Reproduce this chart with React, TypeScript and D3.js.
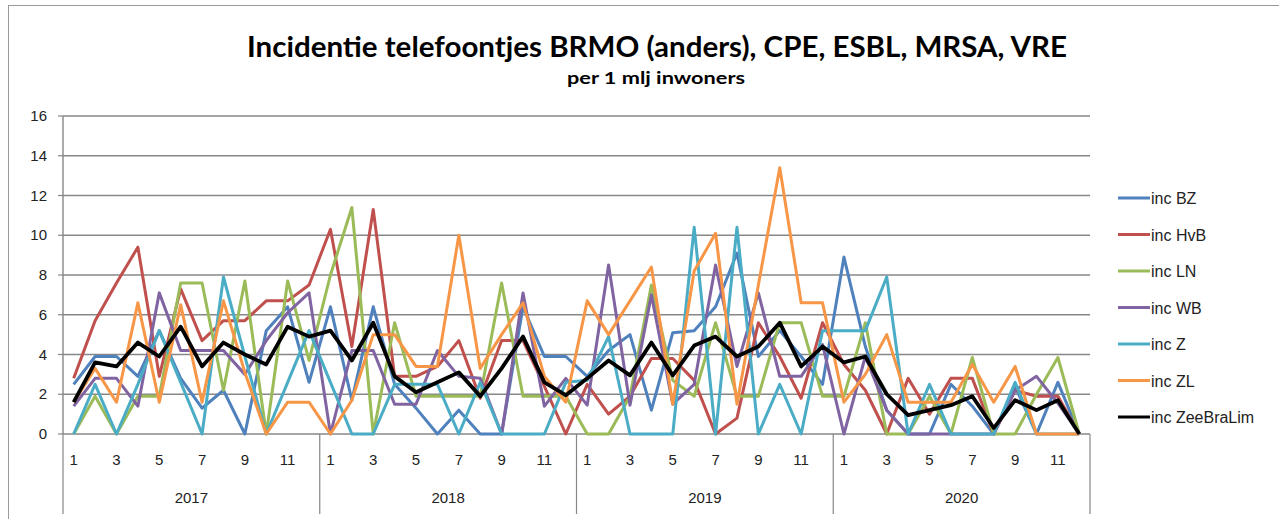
import React from "react";
import * as d3 from "d3";

const years = ["2017", "2018", "2019", "2020"];
const months = [1, 2, 3, 4, 5, 6, 7, 8, 9, 10, 11, 12];
const yTicks = [0, 2, 4, 6, 8, 10, 12, 14, 16];

const incBZ = [2.5, 3.9, 3.9, 2.9, 5.2, 2.8, 1.3, 2.2, 0, 5.2, 6.4, 2.6, 6.4, 1.7, 6.4, 2.5, 1.3, 0, 1.2, 0, 0, 6.4, 3.9, 3.9, 2.9, 4.2, 5.0, 1.2, 5.1, 5.2, 6.4, 9.1, 3.9, 5.2, 3.9, 2.5, 8.9, 4.4, 1.2, 0, 0, 2.5, 1.4, 0, 2.4, 0, 2.6, 0];
const incHvB = [2.8, 5.7, 7.6, 9.4, 2.9, 7.3, 4.7, 5.7, 5.7, 6.7, 6.7, 7.5, 10.3, 4.4, 11.3, 2.9, 2.9, 3.4, 4.7, 1.8, 4.7, 4.7, 2.4, 0, 2.5, 1.0, 1.9, 3.8, 3.8, 2.7, 0, 0.8, 5.6, 3.9, 1.8, 5.6, 3.5, 2.2, 0, 2.8, 1.0, 2.8, 2.8, 0, 2.2, 1.9, 1.9, 0];
const incLN = [0, 1.9, 0, 1.9, 1.9, 7.6, 7.6, 2.2, 7.7, 0, 7.7, 3.7, 8.0, 11.4, 0, 5.6, 1.9, 1.9, 1.9, 1.9, 7.6, 1.9, 1.9, 1.9, 0, 0, 1.9, 7.5, 2.7, 1.9, 5.6, 1.9, 1.9, 5.6, 5.6, 1.9, 1.9, 5.6, 0, 0, 1.9, 0, 3.85, 0, 0, 2.0, 3.85, 0];
const incWB = [1.4, 2.8, 2.8, 1.4, 7.1, 4.2, 4.2, 4.2, 3.0, 4.7, 6.1, 7.1, 0, 4.2, 4.2, 1.5, 1.5, 4.2, 2.9, 2.8, 0, 7.1, 1.4, 2.8, 1.45, 8.5, 1.45, 7.0, 1.5, 2.5, 8.5, 3.4, 7.1, 2.9, 2.9, 4.5, 0, 3.9, 1.2, 0, 0, 0, 0, 0, 2.2, 2.9, 1.55, 0];
const incZ = [0, 2.5, 0, 2.5, 5.2, 2.6, 0, 7.9, 3.9, 0, 2.6, 5.2, 2.6, 0, 0, 2.5, 2.5, 2.5, 0, 2.6, 0, 0, 0, 2.6, 2.7, 4.9, 0, 0, 0, 10.4, 0, 10.4, 0, 2.5, 0, 5.2, 5.2, 5.2, 7.9, 0, 2.5, 0, 0, 0, 2.6, 0, 0, 0];
const incZL = [1.6, 3.3, 1.6, 6.6, 1.6, 6.5, 1.6, 6.7, 3.1, 0, 1.6, 1.6, 0, 1.7, 5.0, 5.0, 3.4, 3.4, 10.0, 3.3, 5.0, 6.6, 2.9, 1.6, 6.7, 5.0, 6.7, 8.4, 1.5, 8.2, 10.1, 1.5, 7.5, 13.4, 6.6, 6.6, 1.6, 3.0, 5.0, 1.6, 1.6, 1.6, 3.5, 1.6, 3.4, 0, 0, 0];
const incZeeBraLim = [1.6, 3.6, 3.4, 4.6, 3.9, 5.4, 3.4, 4.6, 4.0, 3.5, 5.4, 4.9, 5.2, 3.7, 5.6, 2.9, 2.1, 2.6, 3.1, 1.9, 3.3, 4.9, 2.6, 1.95, 2.8, 3.7, 2.95, 4.6, 2.95, 4.45, 4.9, 3.9, 4.4, 5.6, 3.4, 4.4, 3.6, 3.9, 2.0, 0.95, 1.2, 1.45, 1.9, 0.3, 1.7, 1.2, 1.7, 0];

const seriesNames = ["inc BZ", "inc HvB", "inc LN", "inc WB", "inc Z", "inc ZL", "inc ZeeBraLim"];
const seriesValues = [incBZ, incHvB, incLN, incWB, incZ, incZL, incZeeBraLim];
const seriesColors = ["#4F81BD", "#C0504D", "#9BBB59", "#8064A2", "#4BACC6", "#F79646", "#000000"];

const W = 1279;
const H = 519;
const L = 63;
const R = 1090;
const T = 116;
const B = 434;

export default function App() {
  const n = years.length * months.length;
  const idx = d3.range(n);
  const x = d3.scaleBand<number>().domain(idx).range([L, R]).padding(0);
  const cx = (i: number) => (x(i) as number) + x.bandwidth() / 2;
  const y = d3.scaleLinear().domain([0, 16]).range([B, T]);
  const line = d3
    .line<number>()
    .x((_, i) => cx(i))
    .y((v) => y(v));
  const yearW = x.bandwidth() * months.length;
  const font = "'Liberation Sans', Arial, sans-serif";

  return (
    <svg
      width={W}
      height={H}
      style={{ position: "absolute", left: 0, top: 0, background: "#fff" }}
      fontFamily={font}
    >
      <rect x={8.5} y={5.5} width={W} height={H} fill="#fff" stroke="#9a9a9a" strokeWidth={1} />
      <text
        x={657}
        y={57}
        textAnchor="middle"
        fontFamily="Lato, sans-serif"
        fontWeight="bold"
        fontSize={29}
        textLength={820}
        lengthAdjust="spacingAndGlyphs"
        fill="#000"
      >
        Incidentie telefoontjes BRMO (anders), CPE, ESBL, MRSA, VRE
      </text>
      <text
        x={656}
        y={84}
        textAnchor="middle"
        fontFamily="Lato, sans-serif"
        fontWeight="bold"
        fontSize={17}
        textLength={178}
        lengthAdjust="spacingAndGlyphs"
        fill="#000"
      >
        per 1 mlj inwoners
      </text>
      {yTicks.map((t) => (
        <g key={t}>
          <line x1={L} x2={R} y1={y(t)} y2={y(t)} stroke="#878787" strokeWidth={1.6} />
          <line x1={L - 5} x2={L} y1={y(t)} y2={y(t)} stroke="#878787" strokeWidth={1.2} />
          <text x={47} y={y(t) + 5} textAnchor="end" fontSize={15} fill="#222">
            {t}
          </text>
        </g>
      ))}
      <line x1={L} x2={L} y1={T} y2={B} stroke="#878787" strokeWidth={1.4} />
      {years.map((yr, k) => {
        const x0 = L + k * yearW;
        return (
          <g key={yr}>
            <line x1={x0} x2={x0} y1={B} y2={514} stroke="#878787" strokeWidth={1.2} />
            {months
              .filter((m) => m % 2 === 1)
              .map((m) => (
                <text key={m} x={cx(k * 12 + m - 1)} y={465} textAnchor="middle" fontSize={15} fill="#222">
                  {m}
                </text>
              ))}
            <text x={x0 + yearW / 2} y={503} textAnchor="middle" fontSize={15} fill="#222">
              {yr}
            </text>
          </g>
        );
      })}
      <line x1={R} x2={R} y1={B} y2={514} stroke="#878787" strokeWidth={1.2} />
      {seriesValues.map((vals, s) => (
        <path
          key={seriesNames[s]}
          d={line(vals) || ""}
          fill="none"
          stroke={seriesColors[s]}
          strokeWidth={s === 6 ? 3.8 : 3}
          strokeLinejoin="round"
        />
      ))}
      {seriesNames.map((name, s) => {
        const ly = 198 + s * 36.5;
        return (
          <g key={name}>
            <line x1={1118} x2={1150} y1={ly} y2={ly} stroke={seriesColors[s]} strokeWidth={3} />
            <text x={1151} y={ly + 6} fontSize={16} fill="#222">
              {name}
            </text>
          </g>
        );
      })}
    </svg>
  );
}
